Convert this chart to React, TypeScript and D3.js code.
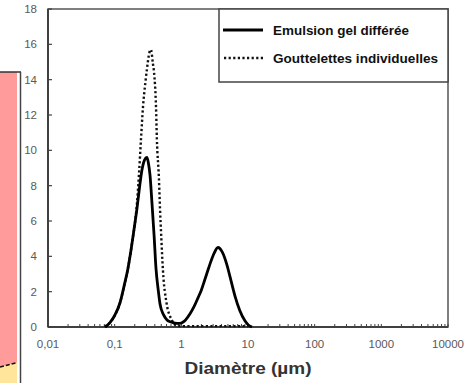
import React from "react";
import * as d3 from "d3";

// ---- data ----
const solidDiam = [0.0716, 0.085, 0.1, 0.12, 0.14, 0.158, 0.175, 0.188, 0.2, 0.216, 0.235, 0.257, 0.28, 0.305, 0.32, 0.339, 0.363, 0.39, 0.417, 0.45, 0.479, 0.54, 0.61, 0.7, 0.8, 0.955, 1.1, 1.35, 1.55, 1.78, 2.0, 2.26, 2.6, 3.0, 3.55, 4.1, 4.84, 5.37, 6.38, 7.5, 9.0, 10.2, 11.5];
const solidVals = [0, 0.25, 0.65, 1.36, 2.4, 3.3, 4.3, 5.1, 5.8, 6.7, 7.85, 8.9, 9.45, 9.6, 9.3, 8.6, 7.0, 5.2, 3.3, 2.1, 1.3, 0.7, 0.4, 0.28, 0.22, 0.2, 0.32, 0.75, 1.15, 1.65, 2.1, 2.7, 3.4, 4.05, 4.5, 4.25, 3.5, 2.85, 1.75, 0.95, 0.35, 0.1, 0];

const dotDiam = [0.0716, 0.085, 0.1, 0.12, 0.14, 0.158, 0.175, 0.188, 0.2, 0.216, 0.232, 0.248, 0.266, 0.29, 0.305, 0.33, 0.35, 0.375, 0.39, 0.417, 0.43, 0.46, 0.48, 0.5, 0.53, 0.6, 0.72, 0.85, 1.0, 2.0, 5.0, 10.0];
const dotVals = [0, 0.25, 0.65, 1.36, 2.4, 3.3, 4.3, 5.1, 5.8, 7.0, 8.7, 10.6, 12.45, 13.9, 14.6, 15.5, 15.7, 14.9, 14.4, 12.45, 10.6, 8.5, 6.6, 5.1, 3.2, 1.36, 0.4, 0.08, 0.05, 0.05, 0.05, 0.05];

const yTicks = [0, 2, 4, 6, 8, 10, 12, 14, 16, 18];
const xTicks = [0.01, 0.1, 1, 10, 100, 1000, 10000];
const xTickLabels = ["0,01", "0,1", "1", "10", "100", "1000", "10000"];
const seriesNames = ["Emulsion gel différée", "Gouttelettes individuelles"];
const xTitle = "Diamètre (µm)";

const W = 469;
const H = 383;
const L = 48, R = 448, T = 9, B = 327;

export default function App() {
  const x = d3.scaleLog().domain([0.01, 10000]).range([L, R]);
  const y = d3.scaleLinear().domain([0, 18]).range([B, T]);

  const line = d3
    .line<[number, number]>()
    .x((p) => x(p[0]))
    .y((p) => y(p[1]))
    .curve(d3.curveMonotoneX);

  const solidPts = solidDiam.map((d, i) => [d, solidVals[i]] as [number, number]);
  const dotPts = dotDiam.map((d, i) => [d, dotVals[i]] as [number, number]);

  const minor: number[] = [];
  for (let e = -2; e < 4; e++) {
    for (let k = 2; k <= 9; k++) minor.push(k * Math.pow(10, e));
  }

  const tickFont = "'Liberation Sans', Arial, sans-serif";
  const dotDash = "2.2 2.4";

  return (
    <svg
      width={W}
      height={H}
      style={{ position: "absolute", left: 0, top: 0, background: "#fff" }}
    >
      {/* partial neighbouring panel on the left */}
      <rect x={0} y={72} width={17} height={H - 72} fill="#FF9B9B" />
      <polygon points={`0,367 17,362.5 17,${H} 0,${H}`} fill="#FFE59C" />
      <line x1={0} y1={367} x2={16} y2={362.8} stroke="#111" strokeWidth={1.6} strokeDasharray="4 2" />
      <line x1={0} y1={72} x2={21} y2={72} stroke="#333" strokeWidth={1.5} />
      <line x1={20.5} y1={72} x2={20.5} y2={H} stroke="#444" strokeWidth={1.5} />

      {/* plot frame */}
      <rect x={L} y={T} width={R - L} height={B - T} fill="none" stroke="#555" strokeWidth={1.5} />
      <line x1={L} y1={T} x2={L} y2={B} stroke="#404040" strokeWidth={2} />
      <line x1={L} y1={B} x2={R} y2={B} stroke="#404040" strokeWidth={2} />

      {/* y ticks */}
      {yTicks.map((t) => (
        <g key={"y" + t}>
          <line x1={L} x2={L + 4} y1={y(t)} y2={y(t)} stroke="#404040" strokeWidth={1.2} />
          <text
            x={37}
            y={y(t)}
            dy="0.36em"
            textAnchor="end"
            fontFamily={tickFont}
            fontSize={11.5}
            fill="#595959"
          >
            {t}
          </text>
        </g>
      ))}

      {/* x minor ticks */}
      {minor.map((m, i) => (
        <line key={"m" + i} x1={x(m)} x2={x(m)} y1={B} y2={B - 3} stroke="#404040" strokeWidth={1} />
      ))}
      {xTicks.map((t, i) => (
        <g key={"x" + i}>
          <line x1={x(t)} x2={x(t)} y1={B} y2={B - 3} stroke="#404040" strokeWidth={1} />
          <text
            x={x(t)}
            y={348}
            textAnchor="middle"
            fontFamily={tickFont}
            fontSize={11.5}
            fill="#595959"
          >
            {xTickLabels[i]}
          </text>
        </g>
      ))}

      {/* series */}
      <path d={line(dotPts) || ""} fill="none" stroke="#111" strokeWidth={2.4} strokeDasharray={dotDash} />
      <path d={line(solidPts) || ""} fill="none" stroke="#000" strokeWidth={2.8} strokeLinejoin="round" />

      {/* legend */}
      <rect x={219} y={9} width={229} height={73} fill="#fff" stroke="#444" strokeWidth={1.5} />
      <line x1={223} x2={263} y1={30} y2={30} stroke="#000" strokeWidth={2.8} />
      <line x1={224} x2={263} y1={58} y2={58} stroke="#111" strokeWidth={2.4} strokeDasharray={dotDash} />
      <text
        x={273}
        y={35}
        fontFamily={tickFont}
        fontWeight="bold"
        fontSize={13.5}
        fill="#111"
        textLength={136}
        lengthAdjust="spacingAndGlyphs"
      >
        {seriesNames[0]}
      </text>
      <text
        x={273}
        y={63}
        fontFamily={tickFont}
        fontWeight="bold"
        fontSize={13.5}
        fill="#111"
        textLength={165}
        lengthAdjust="spacingAndGlyphs"
      >
        {seriesNames[1]}
      </text>

      {/* axis title */}
      <text
        x={248}
        y={374}
        textAnchor="middle"
        fontFamily={tickFont}
        fontWeight="bold"
        fontSize={16}
        fill="#333"
        textLength={127}
        lengthAdjust="spacingAndGlyphs"
      >
        {xTitle}
      </text>
    </svg>
  );
}
